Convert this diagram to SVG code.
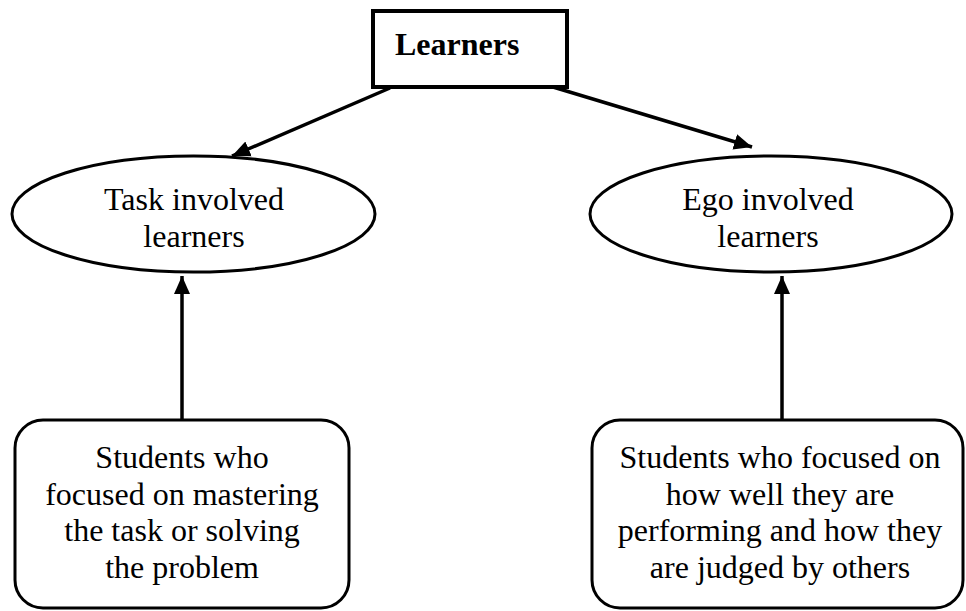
<svg xmlns="http://www.w3.org/2000/svg" width="966" height="611" viewBox="0 0 966 611">
<style>
.t{font-family:"Liberation Serif","Times New Roman",serif;font-size:32px;fill:#000;text-anchor:middle}
.b{font-weight:bold;text-anchor:start}
.s{fill:#fff;stroke:#000;stroke-width:3}
.c{stroke:#000;stroke-width:3.5;fill:none}
</style>
<defs>
<marker id="ah" markerUnits="userSpaceOnUse" markerWidth="20" markerHeight="20" viewBox="0 0 20 20" refX="18" refY="10" orient="auto">
<path d="M0,2 L18,10 L0,18 Z" fill="#000"/>
</marker>
</defs>
<rect width="966" height="611" fill="#fff"/>
<g id="connectors">
<line class="c" x1="390" y1="88" x2="232" y2="156" marker-end="url(#ah)"/>
<line class="c" x1="553" y1="87" x2="752" y2="147" marker-end="url(#ah)"/>
<line class="c" x1="182" y1="419" x2="182" y2="276" marker-end="url(#ah)"/>
<line class="c" x1="782" y1="419" x2="782" y2="276" marker-end="url(#ah)"/>
</g>
<g id="learners">
<rect x="373" y="11" width="194" height="76" fill="#fff" stroke="#000" stroke-width="4"/>
<text class="t b" x="395" y="55">Learners</text>
</g>
<g id="task">
<ellipse class="s" cx="193.5" cy="214" rx="181.5" ry="58"/>
<text class="t" x="194" y="210">Task involved</text>
<text class="t" x="194" y="247">learners</text>
</g>
<g id="ego">
<ellipse class="s" cx="771" cy="214" rx="181" ry="58"/>
<text class="t" x="768" y="210">Ego involved</text>
<text class="t" x="768" y="247">learners</text>
</g>
<g id="task-desc">
<rect class="s" x="15" y="420" width="334" height="188" rx="28" ry="28"/>
<text class="t" x="182" y="468">Students who</text>
<text class="t" x="182" y="505">focused on mastering</text>
<text class="t" x="182" y="541">the task or solving</text>
<text class="t" x="182" y="578">the problem</text>
</g>
<g id="ego-desc">
<rect class="s" x="592" y="420" width="371" height="188" rx="28" ry="28"/>
<text class="t" x="780" y="468">Students who focused on</text>
<text class="t" x="780" y="505">how well they are</text>
<text class="t" x="780" y="541">performing and how they</text>
<text class="t" x="780" y="578">are judged by others</text>
</g>
</svg>
